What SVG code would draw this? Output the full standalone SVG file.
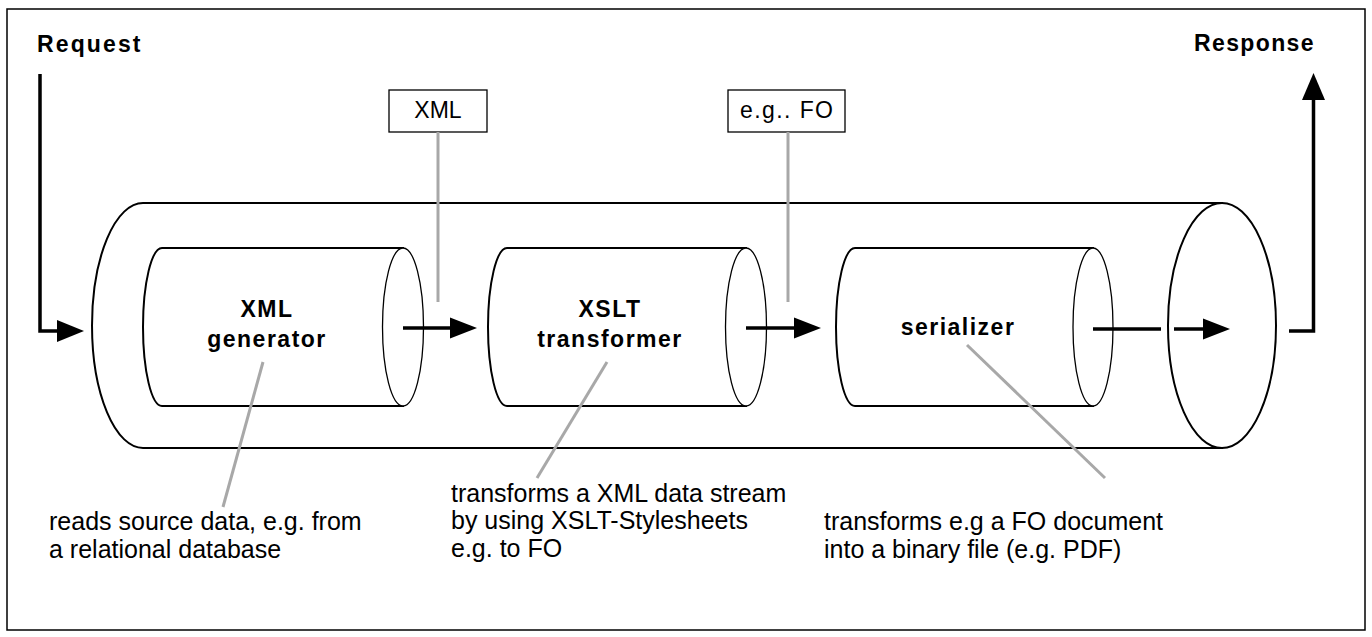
<svg xmlns="http://www.w3.org/2000/svg" width="1372" height="637" viewBox="0 0 1372 637">
<style>
.frame{fill:#fff;stroke:#000;stroke-width:1.5}
.cyl{fill:#fff;stroke:#000;stroke-width:2}
.cylt{fill:#fff;stroke:#000;stroke-width:1.3}
.flow{fill:none;stroke:#000;stroke-width:3.5}
.head{fill:#000}
.call{stroke:#a8a8a8;stroke-width:3;fill:none}
.box{fill:#fff;stroke:#000;stroke-width:1.3}
.t{font-family:"Liberation Sans",Arial,sans-serif;fill:#000}
.b{font-weight:bold;font-size:23px;letter-spacing:1.5px}
.r{font-size:23px}
.d{font-size:25px}
</style>
<rect class="frame" x="7" y="9" width="1358" height="621"/>

<g id="pipeline">
<path class="cyl" d="M143,203 L1222,203 L1222,448 L143,448 A51,122.5 0 0 1 143,203 Z"/>
<ellipse class="cyl" cx="1222" cy="325.5" rx="54" ry="122.5"/>
</g>

<g id="generator">
<path class="cyl" d="M162,248 L403,248 L403,406 L162,406 A19,79 0 0 1 162,248 Z"/>
<ellipse class="cylt" cx="403" cy="327" rx="20.5" ry="79"/>
<text class="t b" x="267" y="317" text-anchor="middle">XML</text>
<text class="t b" x="267" y="347" text-anchor="middle">generator</text>
</g>

<g id="transformer">
<path class="cyl" d="M507,248 L746,248 L746,406 L507,406 A19,79 0 0 1 507,248 Z"/>
<ellipse class="cylt" cx="746" cy="327" rx="20.5" ry="79"/>
<text class="t b" x="610" y="317" text-anchor="middle">XSLT</text>
<text class="t b" x="610" y="347" text-anchor="middle">transformer</text>
</g>

<g id="serializer">
<path class="cyl" d="M855,248 L1093,248 L1093,406 L855,406 A19,79 0 0 1 855,248 Z"/>
<ellipse class="cylt" cx="1093" cy="327" rx="20" ry="79"/>
<text class="t b" x="958" y="335" text-anchor="middle">serializer</text>
</g>

<g id="label-xml">
<rect class="box" x="389" y="90" width="98" height="42"/>
<text class="t r" x="438" y="118" text-anchor="middle">XML</text>
</g>
<g id="label-fo">
<rect class="box" x="728" y="90" width="117" height="42"/>
<text class="t r" x="740" y="118" textLength="93" lengthAdjust="spacing">e.g.. FO</text>
</g>

<g id="labels">
<text class="t b" x="37" y="52" textLength="105" lengthAdjust="spacing">Request</text>
<text class="t b" x="1194" y="51" textLength="121" lengthAdjust="spacing">Response</text>
<text class="t d" x="49" y="530">reads source data, e.g. from</text>
<text class="t d" x="49" y="558">a relational database</text>
<text class="t d" x="451" y="502">transforms a XML data stream</text>
<text class="t d" x="451" y="529">by using XSLT-Stylesheets</text>
<text class="t d" x="451" y="557">e.g. to FO</text>
<text class="t d" x="824" y="530">transforms e.g a FO document</text>
<text class="t d" x="824" y="558">into a binary file (e.g. PDF)</text>
</g>

<g id="connectors">
<line class="call" x1="438" y1="132" x2="438" y2="302"/>
<line class="call" x1="788" y1="132" x2="788" y2="302"/>
<line class="call" x1="263" y1="362" x2="223" y2="507"/>
<line class="call" x1="607" y1="362" x2="537" y2="478"/>
<line class="call" x1="967" y1="345" x2="1105" y2="478"/>

<path class="flow" d="M40,74 V331 H58"/>
<polygon class="head" points="57,320 84,331 57,342"/>

<path class="flow" d="M1289,331 H1313.5 V98"/>
<polygon class="head" points="1302,100 1313.5,73 1325,100"/>

<line class="flow" x1="403" y1="328" x2="452" y2="328"/>
<polygon class="head" points="450,317.5 477,328 450,338.5"/>

<line class="flow" x1="746" y1="328" x2="796" y2="328"/>
<polygon class="head" points="794,317.5 821,328 794,338.5"/>

<line class="flow" x1="1093" y1="329" x2="1161" y2="329"/>
<line class="flow" x1="1174" y1="329" x2="1205" y2="329"/>
<polygon class="head" points="1203,318.5 1230,329 1203,339.5"/>
</g>
</svg>
